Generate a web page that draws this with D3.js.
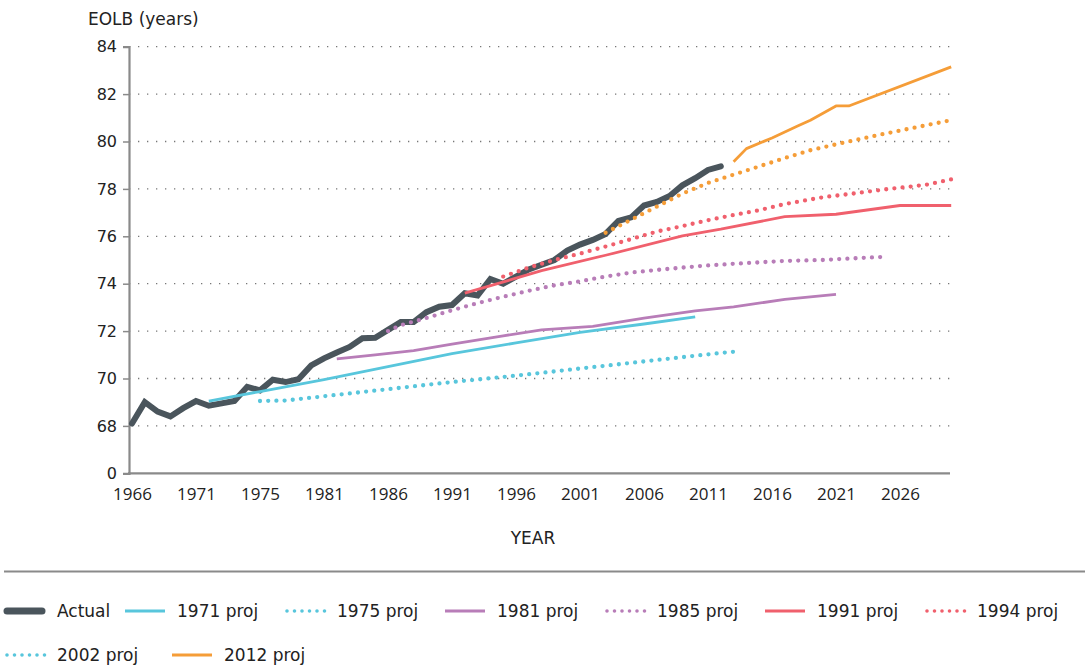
<!DOCTYPE html>
<html><head><meta charset="utf-8">
<script src="https://cdn.jsdelivr.net/npm/d3@7"></script>
<style>
body{margin:0;background:#fff}
svg{display:block}
text{font-family:"DejaVu Sans",sans-serif;fill:#222}
</style>
</head><body>
<svg id="chart" width="1085" height="666"></svg>
<script>
// ---------- data ----------
const actualStartYear = 1966;
const actualValues = [68.1,69.0,68.6,68.4,68.75,69.05,68.85,68.95,69.05,69.65,
  69.5,69.95,69.85,69.97,70.55,70.85,71.1,71.33,71.7,71.72,
  72.05,72.38,72.38,72.8,73.03,73.1,73.6,73.5,74.2,74.0,
  74.3,74.6,74.8,75.0,75.4,75.65,75.85,76.1,76.65,76.8,
  77.3,77.45,77.7,78.15,78.45,78.8,78.95];

const proj1971 = [[1972,69.05],[1976,69.45],[1981,69.95],[1986,70.5],[1991,71.05],[1996,71.5],[2001,71.95],[2006,72.3],[2010,72.6]];
const proj1975 = [[1976,69.05],[1978,69.07],[1981,69.25],[1986,69.55],[1991,69.85],[1996,70.12],[2001,70.42],[2006,70.72],[2011,71.02],[2013,71.13]];
const proj1981 = [[1982,70.83],[1985,71.0],[1988,71.18],[1991,71.45],[1995,71.8],[1998,72.05],[2002,72.2],[2006,72.55],[2010,72.85],[2013,73.02],[2017,73.34],[2021,73.55]];
const proj1985 = [[1986,72.0],[1987,72.25],[1989,72.55],[1991,72.88],[1993,73.18],[1995,73.45],[1997,73.7],[1999,73.93],[2001,74.1],[2003,74.3],[2005,74.47],[2007,74.58],[2009,74.68],[2011,74.77],[2013,74.84],[2015,74.9],[2017,74.96],[2020,75.0],[2022,75.06],[2025,75.14]];
const proj1991 = [[1992,73.6],[1998,74.55],[2003,75.2],[2009,76.02],[2012,76.3],[2017,76.83],[2021,76.93],[2026,77.3],[2030,77.3]];
const proj1994 = [[1995,74.3],[1997,74.68],[1999,75.0],[2001,75.27],[2003,75.57],[2005,75.88],[2007,76.2],[2009,76.43],[2011,76.68],[2013,76.9],[2015,77.1],[2017,77.36],[2020,77.65],[2022,77.78],[2025,77.99],[2028,78.17],[2030,78.4]];
const proj2002 = [[2003,76.15],[2005,76.7],[2007,77.25],[2009,77.8],[2011,78.25],[2013,78.6],[2015,78.95],[2017,79.3],[2019,79.63],[2021,79.88],[2023,80.12],[2025,80.35],[2027,80.57],[2030,80.9]];
const proj2012 = [[2013,79.15],[2014,79.7],[2016,80.15],[2018,80.65],[2019,80.9],[2021,81.5],[2022,81.5],[2030,83.15]];

const xTickYears  = [1966,1971,1976,1981,1986,1991,1996,2001,2006,2011,2016,2021,2026];
const xTickLabels = ["1966","1971","1975","1981","1986","1991","1996","2001","2006","2011","2016","2021","2026"];
const yTickValues = [66,68,70,72,74,76,78,80,82,84];
const yTickLabels = ["0","68","70","72","74","76","78","80","82","84"];

// ---------- styles ----------
const C = {actual:"#4a555c", cyan:"#58c6dc", purple:"#b87db8", red:"#f0606d", orange:"#f59d38"};

const actualData = actualValues.map((v,i)=>[actualStartYear+i, v]);
const projections = [
  {data:proj1971, color:C.cyan,   dotted:false},
  {data:proj1975, color:C.cyan,   dotted:true},
  {data:proj1981, color:C.purple, dotted:false},
  {data:proj1985, color:C.purple, dotted:true},
  {data:proj1991, color:C.red,    dotted:false},
  {data:proj1994, color:C.red,    dotted:true},
  {data:proj2002, color:C.orange, dotted:true},
  {data:proj2012, color:C.orange, dotted:false}
];
const legendItems = [
  {name:"Actual",    color:C.actual, type:"thick"},
  {name:"1971 proj", color:C.cyan,   type:"solid"},
  {name:"1975 proj", color:C.cyan,   type:"dot"},
  {name:"1981 proj", color:C.purple, type:"solid"},
  {name:"1985 proj", color:C.purple, type:"dot"},
  {name:"1991 proj", color:C.red,    type:"solid"},
  {name:"1994 proj", color:C.red,    type:"dot"},
  {name:"2002 proj", color:C.cyan,   type:"dot"},
  {name:"2012 proj", color:C.orange, type:"solid"}
];

// ---------- chart ----------
const svg = d3.select("#chart");
const plotLeft = 129, plotRight = 950;
const x = d3.scaleLinear().domain([1966,2030]).range([132,951.2]);
const y = d3.scaleLinear().domain([66,84]).range([473.3,46.7]);

// gridlines
svg.append("g").selectAll("line").data(yTickValues.slice(1)).join("line")
  .attr("x1",plotLeft).attr("x2",plotRight)
  .attr("y1",d=>y(d)).attr("y2",d=>y(d))
  .attr("stroke","#777").attr("stroke-width",1.3)
  .attr("stroke-dasharray","1.3,7.7");

// y axis
const yAxis = svg.append("g").attr("transform",`translate(${plotLeft},0)`)
  .call(d3.axisLeft(y).tickValues(yTickValues).tickFormat((d,i)=>yTickLabels[i]).tickSize(6).tickPadding(6));
yAxis.select(".domain").attr("stroke","#8a8a8a").attr("stroke-width",2.2);
yAxis.selectAll(".tick line").attr("stroke","#8a8a8a").attr("stroke-width",1.5);
yAxis.selectAll("text").style("font-family","'DejaVu Sans',sans-serif").style("font-size","16px").attr("fill","#222");

// x axis
const xAxis = svg.append("g").attr("transform",`translate(0,${y(66)})`)
  .call(d3.axisBottom(x).tickValues(xTickYears).tickFormat((d,i)=>xTickLabels[i]).tickSize(0).tickPadding(14.5));
xAxis.select(".domain").remove();
xAxis.selectAll("text").style("font-family","'Open Sans',sans-serif").style("font-size","17px").attr("fill","#222");
svg.append("line").attr("x1",plotLeft-1).attr("x2",plotRight)
  .attr("y1",y(66)).attr("y2",y(66)).attr("stroke","#8a8a8a").attr("stroke-width",2.2);

// lines
const line = d3.line().x(d=>x(d[0])).y(d=>y(d[1]));
svg.append("path").datum(actualData).attr("d",line)
  .attr("fill","none").attr("stroke",C.actual).attr("stroke-width",6)
  .attr("stroke-linecap","round").attr("stroke-linejoin","miter");

projections.forEach(p=>{
  const path = svg.append("path").datum(p.data).attr("d",line)
    .attr("fill","none").attr("stroke",p.color);
  if(p.dotted){
    path.attr("stroke-width",4.3).attr("stroke-dasharray","0,8.2").attr("stroke-linecap","round");
  } else {
    path.attr("stroke-width",2.8).attr("stroke-linejoin","round");
  }
});

// titles
svg.append("text").attr("x",88).attr("y",25).style("font-size","17px").text("EOLB (years)");
svg.append("text").attr("x",533).attr("y",544).attr("text-anchor","middle").style("font-size","17px").text("YEAR");

// separator
svg.append("line").attr("x1",4).attr("x2",1085).attr("y1",571.5).attr("y2",571.5)
  .attr("stroke","#8a8a8a").attr("stroke-width",2);

// legend
const rowY = [611, 655];
legendItems.forEach((it,i)=>{
  const row = i < 7 ? 0 : 1;
  const j = row===0 ? i : i-7;
  const x0 = row===0 ? (j===0 ? 5 : 125 + (j-1)*160) : 5 + j*167;
  const g = svg.append("g").attr("transform",`translate(${x0},${rowY[row]})`);
  const sw = g.append("line").attr("x1",2).attr("x2",37).attr("y1",0).attr("y2",0).attr("stroke",it.color);
  if(it.type==="thick") sw.attr("stroke-width",7).attr("stroke-linecap","round");
  else if(it.type==="solid") sw.attr("stroke-width",3).attr("x1",0).attr("x2",40);
  else sw.attr("stroke-width",3.6).attr("stroke-linecap","round").attr("stroke-dasharray","0,7.5").attr("x1",2).attr("x2",40);
  g.append("text").attr("x",52).attr("y",6).style("font-size","17px").text(it.name);
});
</script>
</body></html>
